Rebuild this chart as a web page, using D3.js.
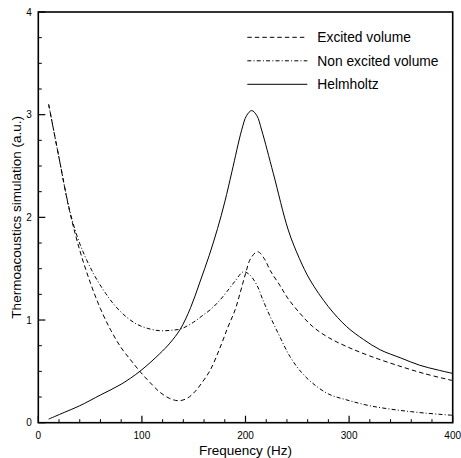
<!DOCTYPE html>
<html>
<head>
<meta charset="utf-8">
<script src="https://cdn.jsdelivr.net/npm/d3@7"></script>
<style>
  body { margin: 0; background: #fff; }
  text { font-family: "Liberation Sans", Arial, sans-serif; fill: #000; }
</style>
</head>
<body>
<div id="chart"></div>
<script>
var svgWidth = 461;
var svgHeight = 458;

var margin = { top: 12, right: 8.3, bottom: 35.3, left: 38.3 };
var width = svgWidth - margin.left - margin.right;
var height = svgHeight - margin.top - margin.bottom;

// data
var xTicks = [0, 100, 200, 300, 400];
var yTicks = [0, 1, 2, 3, 4];

var excitedFreq = [10, 20, 30, 40, 50, 60, 70, 80, 90, 98, 108, 117, 127, 136, 144, 151, 158, 166, 175, 183, 190, 195, 200, 205, 211.7, 218, 224, 233, 241, 253, 265, 280, 298, 320, 346, 372, 400];
var excitedVal  = [3.1, 2.58, 2.07, 1.68, 1.37, 1.11, 0.90, 0.73, 0.60, 0.5, 0.39, 0.30, 0.235, 0.214, 0.24, 0.30, 0.39, 0.513, 0.72, 0.93, 1.1, 1.27, 1.45, 1.6, 1.665, 1.6, 1.48, 1.34, 1.21, 1.06, 0.935, 0.83, 0.74, 0.65, 0.56, 0.48, 0.41];

var nonExcitedFreq = [10, 20, 30, 38, 46, 55, 65, 74, 85, 95, 105, 117, 128, 138, 150, 158, 166, 175, 182, 190, 198, 204, 211, 217, 224, 233, 243, 254, 265, 280, 298, 320, 346, 372, 400];
var nonExcitedVal  = [3.1, 2.58, 2.08, 1.8, 1.6, 1.42, 1.26, 1.14, 1.03, 0.96, 0.92, 0.896, 0.9, 0.915, 0.98, 1.04, 1.1, 1.19, 1.276, 1.38, 1.47, 1.44, 1.34, 1.19, 1.03, 0.84, 0.643, 0.49, 0.383, 0.28, 0.221, 0.165, 0.124, 0.095, 0.072];

var helmFreq = [10, 25, 40, 60, 80, 98, 117, 127, 137, 147, 156, 165, 173, 180, 187, 196.3, 201, 206, 211, 215.6, 226.8, 241.3, 252, 262.3, 280, 297.7, 314, 330, 350, 368, 385, 400];
var helmVal  = [0.035, 0.10, 0.165, 0.27, 0.375, 0.5, 0.67, 0.775, 0.91, 1.12, 1.37, 1.63, 1.89, 2.15, 2.45, 2.85, 2.99, 3.04, 2.99, 2.85, 2.43, 1.876, 1.6, 1.39, 1.13, 0.935, 0.81, 0.71, 0.63, 0.56, 0.515, 0.48];

var legendNames = ["Excited volume", "Non excited volume", "Helmholtz"];
var legendDash = ["4.5,3", "4,2.2,1,2.2", null];

var series = [
  { freq: excitedFreq, val: excitedVal, dash: legendDash[0] },
  { freq: nonExcitedFreq, val: nonExcitedVal, dash: legendDash[1] },
  { freq: helmFreq, val: helmVal, dash: legendDash[2] }
];

var svg = d3.select("#chart")
  .append("svg")
  .attr("width", svgWidth)
  .attr("height", svgHeight);

var chartGroup = svg.append("g")
  .attr("transform", `translate(${margin.left}, ${margin.top})`);

var xScale = d3.scaleLinear().domain([0, 400]).range([0, width]);
var yScale = d3.scaleLinear().domain([0, 4]).range([height, 0]);

// minor ticks (inward)
var xMinor = d3.range(0, 401, 20).filter(d => d % 100 !== 0);
var yMinor = d3.range(0, 4.01, 0.25).filter(d => d % 1 !== 0);

chartGroup.selectAll(".xminor")
  .data(xMinor)
  .enter()
  .append("line")
  .attr("x1", d => xScale(d)).attr("x2", d => xScale(d))
  .attr("y1", height).attr("y2", height - 3.5)
  .attr("stroke", "#000").attr("stroke-width", 1);

chartGroup.selectAll(".xmajor")
  .data(xTicks)
  .enter()
  .append("line")
  .attr("x1", d => xScale(d)).attr("x2", d => xScale(d))
  .attr("y1", height).attr("y2", height - 7)
  .attr("stroke", "#000").attr("stroke-width", 1.2);

chartGroup.selectAll(".yminor")
  .data(yMinor)
  .enter()
  .append("line")
  .attr("x1", 0).attr("x2", 3.5)
  .attr("y1", d => yScale(d)).attr("y2", d => yScale(d))
  .attr("stroke", "#000").attr("stroke-width", 1);

chartGroup.selectAll(".ymajor")
  .data(yTicks)
  .enter()
  .append("line")
  .attr("x1", 0).attr("x2", 7)
  .attr("y1", d => yScale(d)).attr("y2", d => yScale(d))
  .attr("stroke", "#000").attr("stroke-width", 1.2);

// tick labels
chartGroup.selectAll(".xlab")
  .data(xTicks)
  .enter()
  .append("text")
  .attr("x", d => xScale(d))
  .attr("y", height + 15.8)
  .attr("text-anchor", "middle")
  .style("font-size", "10px")
  .text(d => d);

chartGroup.selectAll(".ylab")
  .data(yTicks)
  .enter()
  .append("text")
  .attr("x", -6.5)
  .attr("y", d => yScale(d) + 3.6)
  .attr("text-anchor", "end")
  .style("font-size", "10px")
  .text(d => d);

// frame
chartGroup.append("rect")
  .attr("x", 0).attr("y", 0)
  .attr("width", width).attr("height", height)
  .attr("fill", "none")
  .attr("stroke", "#000")
  .attr("stroke-width", 1.6);

// curves
var line = d3.line()
  .x(d => xScale(d[0]))
  .y(d => yScale(d[1]))
  .curve(d3.curveCatmullRom.alpha(0.5));

series.forEach(function(s) {
  chartGroup.append("path")
    .datum(d3.zip(s.freq, s.val))
    .attr("d", line)
    .attr("fill", "none")
    .attr("stroke", "#000")
    .attr("stroke-width", 1)
    .attr("stroke-dasharray", s.dash);
});

// legend
var legend = svg.append("g");
legendNames.forEach(function(name, i) {
  var y = 37.3 + i * 23.5;
  legend.append("line")
    .attr("x1", 247.3).attr("x2", 307.3)
    .attr("y1", y).attr("y2", y)
    .attr("stroke", "#000").attr("stroke-width", 1)
    .attr("stroke-dasharray", legendDash[i]);
  legend.append("text")
    .attr("x", 317.3)
    .attr("y", y + 5)
    .style("font-size", "13.8px")
    .text(name);
});

// axis titles
chartGroup.append("text")
  .attr("x", width / 2)
  .attr("y", height + 32.5)
  .attr("text-anchor", "middle")
  .style("font-size", "13.5px")
  .text("Frequency (Hz)");

chartGroup.append("text")
  .attr("transform", "rotate(-90)")
  .attr("x", -height / 2)
  .attr("y", -17.5)
  .attr("text-anchor", "middle")
  .style("font-size", "13.5px")
  .text("Thermoacoustics simulation (a.u.)");
</script>
</body>
</html>
